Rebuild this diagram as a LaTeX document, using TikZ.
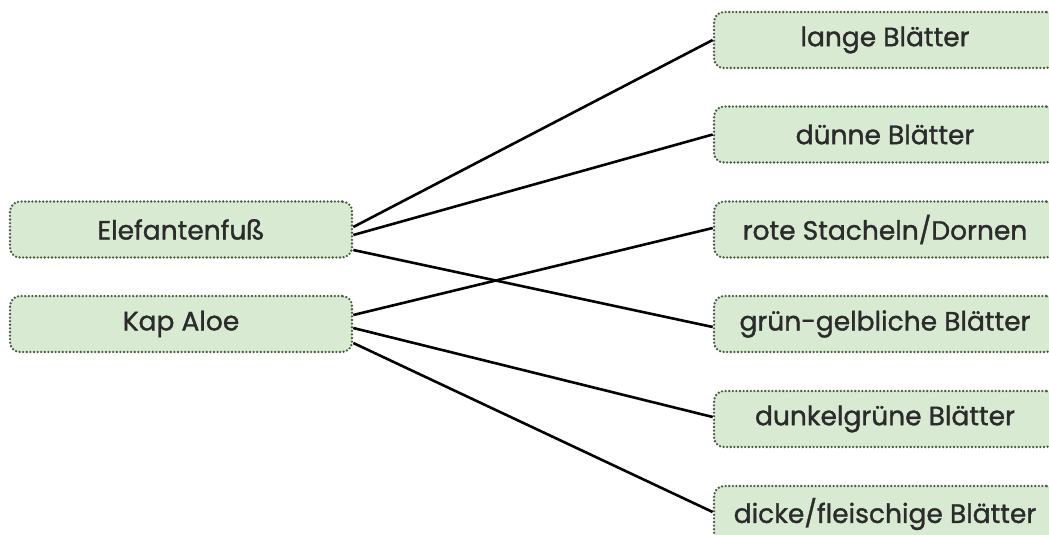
\documentclass[tikz,border=0pt]{standalone}
\usepackage{fontspec}
\setmainfont{Poppins}
\newfontfamily\boxfont{Poppins}[BoldFont=Poppins, BoldFeatures={FakeBold=1.2}]
\definecolor{boxfill}{HTML}{D9EAD3}
\definecolor{boxline}{HTML}{45603A}
\definecolor{txt}{HTML}{2B2B2B}
\begin{document}
\begin{tikzpicture}[x=1pt,y=-1pt,
  box/.style={draw=boxline, fill=boxfill, line width=2.6pt, dash pattern=on 0pt off 3.6pt, line cap=round,
    rounded corners=10pt, minimum width=342pt, minimum height=56pt, inner sep=0pt, text=txt,
    font=\boxfont\bfseries\fontsize{26.5}{30}\selectfont},
  link/.style={line width=2.6pt, black, line cap=butt}]
\useasboundingbox (0,0) rectangle (1049,535);
\clip (0,0) rectangle (1049,535);
\node[box] (ele) at (181,229.5) {Elefantenfuß};
\node[box] (kap) at (181,324) {Kap Aloe};
\node[box] (lange) at (885,40) {lange Blätter};
\node[box] (duenn) at (885,134.5) {dünne Blätter};
\node[box] (rote) at (885,229.5) {rote Stacheln/Dornen};
\node[box] (gruen) at (885,324) {grün-gelbliche Blätter};
\node[box] (dunkel) at (885,419) {dunkelgrüne Blätter};
\node[box] (dicke) at (885,514) {dicke/fleischige Blätter};
\draw[link] ([yshift=2.5pt]ele.east) -- (lange.west);
\draw[link] ([yshift=-5.5pt]ele.east) -- (duenn.west);
\draw[link] ([yshift=-20.5pt]ele.east) -- ([yshift=-3pt]gruen.west);
\draw[link] ([yshift=9pt]kap.east) -- ([yshift=1.5pt]rote.west);
\draw[link] ([yshift=-4pt]kap.east) -- ([yshift=2pt]dunkel.west);
\draw[link] ([yshift=-19pt]kap.east) -- ([yshift=2pt]dicke.west);
\end{tikzpicture}
\end{document}
